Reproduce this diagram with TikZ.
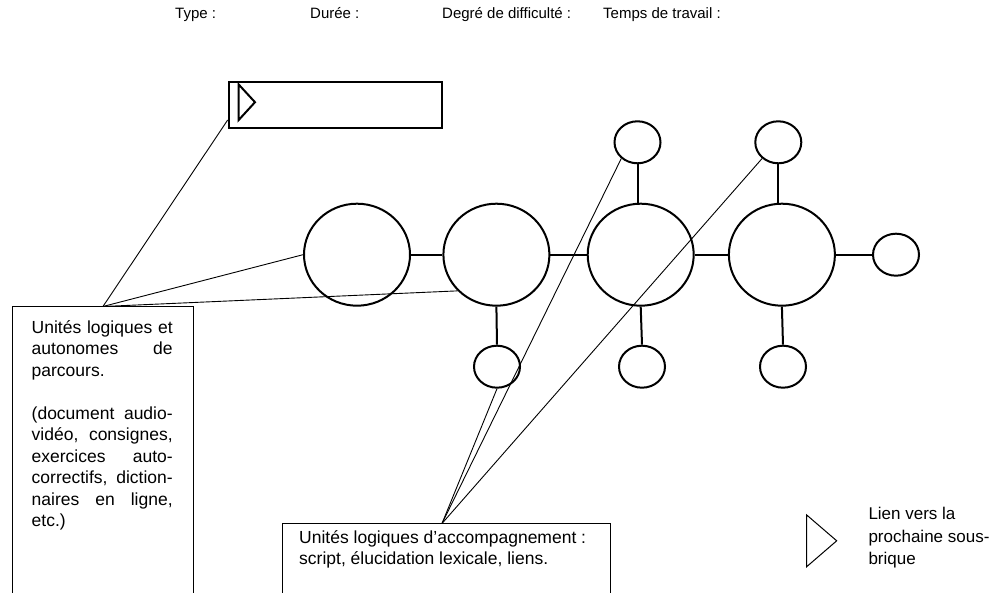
\documentclass[tikz,border=0pt]{standalone}
\usepackage{fontspec}
\setmainfont{Liberation Sans}
\usetikzlibrary{shapes.geometric,calc}
\begin{document}
\begin{tikzpicture}[x=1pt,y=-1pt,
  bigc/.style={ellipse,draw,line width=2pt,minimum width=106pt,minimum height=102pt,inner sep=0pt},
  smallc/.style={ellipse,draw,line width=2pt,minimum width=46pt,minimum height=42pt,inner sep=0pt},
  link/.style={draw,line width=2pt},
  callout/.style={draw,line width=0.9pt},
  thinbox/.style={draw,line width=0.9pt,anchor=north west,inner sep=0pt},
  hdr/.style={anchor=base west,inner sep=0pt,font=\fontsize{15}{18}\selectfont},
  boxtext/.style={anchor=north west,inner sep=0pt,font=\fontsize{17.5}{21.5}\selectfont}
]
\useasboundingbox (0,0) rectangle (994,593);
\fill[white] (0,0) rectangle (994,593);

% header
\node[hdr] (h1) at (175,19) {Type :};
\node[hdr] (h2) at (310,19) {Durée :};
\node[hdr] (h3) at (442,19) {Degré de difficulté :};
\node[hdr] (h4) at (603,19) {Temps de travail :};

% top box with triangle
\node[draw,line width=2pt,anchor=north west,inner sep=0pt,minimum width=213.6pt,minimum height=45.7pt] (topbox) at (227.7,81) {};
\draw[line width=2pt] (238.7,84.5) -- (238.7,120) -- (255,102.2) -- cycle;

% big circles
\node[bigc] (c1) at (357,254.7) {};
\node[bigc] (c2) at (496.4,254.7) {};
\node[bigc] (c3) at (640.7,254.7) {};
\node[bigc] (c4) at (781.9,254.7) {};
% small circles
\node[smallc] (t3) at (637.5,142.3) {};
\node[smallc] (t4) at (778.3,142.3) {};
\node[smallc] (b2) at (497,366.7) {};
\node[smallc] (b3) at (642,366.7) {};
\node[smallc] (b4) at (783,366.7) {};
\node[smallc] (r4) at (896,254.7) {};

% links
\draw[link] (c1) -- (c2);
\draw[link] (c2) -- (c3);
\draw[link] (c3) -- (c4);
\draw[link] (c4) -- (r4);
\draw[link] (t3.south) -- (t3.south |- c3.north);
\draw[link] (t4.south) -- (t4.south |- c4.north);
\draw[link] (c2.south) -- (b2.north);
\draw[link] (c3.south) -- (b3.north);
\draw[link] (c4.south) -- (b4.north);

% left box
\node[thinbox,minimum width=181pt,minimum height=300pt] (leftbox) at (12,306.5) {};
\node[boxtext,text width=141pt,align=justify] (lefttext) at (31.5,320) {Unités logiques et\linebreak autonomes de\linebreak parcours.\par\vspace{21.5pt}(document audio-\linebreak vidéo, consignes,\linebreak exercices auto-\linebreak correctifs, diction-\linebreak naires en ligne,\linebreak etc.)};
\coordinate (apexL) at (leftbox.north);
\draw[callout] (apexL) -- (topbox.188);
\draw[callout] (apexL) -- (c1.west);
\draw[callout] (apexL) -- (c2.223);

% bottom box
\node[thinbox,minimum width=328pt,minimum height=100pt] (botbox) at (282,523.5) {};
\node[boxtext,align=left] (bottext) at (299,530) {Unités logiques d’accompagnement :\\script, élucidation lexicale, liens.};
\coordinate (apexB) at (442,523.5);
\draw[callout] (apexB) -- (t3.225);
\draw[callout] (apexB) -- (t4.225);
\draw[callout] (apexB) -- (b2.south);

% legend
\draw[line width=1pt] (806.7,515) -- (806.7,566.7) -- (836.7,540.8) -- cycle;
\node[anchor=north west,inner sep=0pt,align=left,font=\fontsize{17}{22.5}\selectfont] (legend) at (868.3,507) {Lien vers la\\prochaine sous-\\brique};
\end{tikzpicture}
\end{document}
